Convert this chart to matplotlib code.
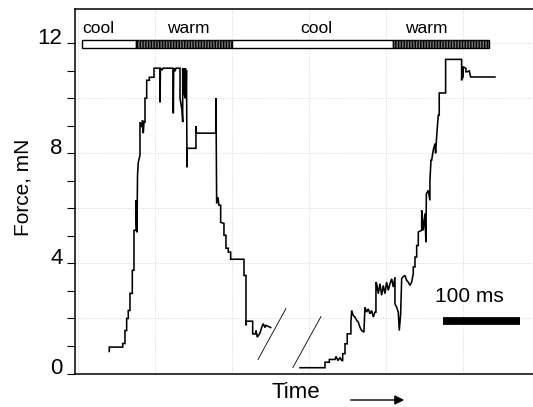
import matplotlib
matplotlib.use("Agg")
import matplotlib.pyplot as plt
import matplotlib.transforms as mtransforms
from matplotlib.patches import Rectangle

plt.rcParams['font.family'] = ['Liberation Sans', 'DejaVu Sans']
plt.rcParams['hatch.linewidth'] = 1.0

# ---- data (time in ms, force in mN) ----
t1 = [40.6, 40.6, 58.1, 58.1, 61.0, 61.0, 63.2, 63.2, 65.3, 65.3, 67.5, 67.5, 70.5, 70.5,
      72.7, 72.7, 75.3, 75.3, 76.6, 77.3, 78.3, 80.5, 80.5, 82.7, 83.8, 84.8, 85.7, 87.0,
      87.0, 89.2, 89.2, 92.6, 92.6, 98.7, 98.7, 106.5, 106.5, 107.1, 109.1, 110.4, 123.4,
      123.8, 124.3, 126.0, 127.3, 132.5, 132.5, 135.1, 136.0, 136.0, 137.7, 138.3, 139.0,
      139.6, 140.3, 140.9, 141.6, 141.9, 153.2, 153.2, 153.9, 179.2, 179.2, 180.1, 181.8,
      183.1, 185.3, 185.3, 189.6, 189.6, 192.2, 192.2, 195.2, 195.2, 198.3, 198.3, 215.6,
      215.6, 218.2, 218.2, 218.6, 226.9, 226.9, 231.2, 231.2, 232.9, 236.4, 238.6, 240.6,
      242.9, 244.2, 250.3]
f1 = [0.80, 0.96, 0.96, 1.09, 1.09, 1.56, 1.56, 2.00, 2.00, 2.29, 2.29, 2.91, 2.91, 3.75,
      3.75, 5.20, 5.20, 6.29, 5.13, 7.20, 7.67, 7.93, 9.13, 8.95, 9.20, 8.73, 9.13, 9.13,
      10.00, 10.00, 10.65, 10.65, 10.76, 10.76, 11.09, 11.09, 9.85, 11.09, 11.02, 11.09, 11.09,
      9.45, 11.09, 10.98, 11.09, 11.09, 10.00, 9.56, 9.13, 11.09, 10.11, 11.09, 10.00,
      11.09, 10.00, 11.02, 7.49, 8.18, 8.18, 8.98, 8.73, 8.73, 10.00, 6.18, 6.40,
      6.11, 6.11, 5.49, 5.45, 5.02, 5.02, 4.55, 4.55, 4.41, 4.41, 4.15, 4.15,
      3.56, 3.56, 1.75, 1.90, 1.90, 1.44, 1.44, 1.56, 1.32, 1.47, 1.68, 1.81,
      1.67, 1.75, 1.67]

t2 = [288.3, 320.8, 320.8, 326.4, 326.4, 333.8, 335.1, 337.7, 340.3, 342.5, 343.8, 343.8,
      346.8, 346.8, 349.7, 349.7, 354.5, 354.5, 355.5, 357.5, 359.7, 362.0, 364.0, 366.2,
      368.4, 371.4, 372.7, 374.9, 377.0, 379.2, 381.4, 383.5, 385.7, 387.0, 387.0, 387.9,
      390.0, 392.2, 394.4, 396.5, 398.7, 400.9, 403.0, 405.2, 407.4, 409.5, 411.7, 411.7,
      413.9, 416.0, 417.3, 419.1, 420.4, 421.7, 424.7, 426.9, 429.0, 431.2, 433.4, 435.5,
      435.5, 437.7, 437.7, 439.9, 439.9, 442.0, 442.0, 446.4, 446.4, 448.4, 450.6, 451.9,
      452.5, 454.9, 457.1, 457.1, 458.5, 459.4, 461.4, 463.6, 464.5, 465.8, 467.9, 469.2,
      469.2, 477.5, 477.5, 498.3, 498.3, 499.1, 499.6, 500.4, 503.9, 503.9, 505.6, 508.2,
      510.0, 541.6]
f2 = [0.21, 0.21, 0.41, 0.41, 0.51, 0.51, 0.62, 0.47, 0.58, 0.47, 0.47, 0.72,
      0.72, 1.08, 1.08, 1.44, 1.44, 1.87, 2.29, 2.11, 2.05, 1.93, 1.87, 1.68,
      1.56, 1.50, 2.41, 2.23, 2.35, 2.17, 2.29, 2.05, 2.23, 2.23, 3.32, 3.26,
      2.90, 3.26, 2.84, 3.20, 2.90, 3.32, 3.02, 3.26, 3.44, 3.14, 3.50, 2.53,
      2.41, 2.23, 1.56, 2.17, 3.44, 3.50, 3.56, 3.38, 3.32, 3.20, 3.32, 3.63,
      3.87, 3.87, 4.23, 4.23, 4.65, 4.65, 5.14, 5.20, 5.93, 5.20, 5.81, 4.77,
      6.53, 6.65, 6.29, 7.00, 7.75, 7.75, 8.11, 8.35, 8.00, 8.59, 9.38, 9.38,
      10.19, 10.19, 11.41, 11.41, 10.65, 11.14, 10.73, 11.14, 11.08, 10.96, 10.96, 10.99,
      10.77, 10.77]

# break marks (axis-break slashes)
break_t = [[233.8, 270.1], [279.2, 315.6]]
break_f = [[0.51, 2.36], [0.22, 2.07]]

# temperature protocol bar
phase_labels = ['cool', 'warm', 'cool', 'warm']
phase_start = [5.2, 75.3, 200.0, 409.0]
phase_end = [75.3, 200.0, 409.0, 533.8]
phase_warm = [False, True, False, True]
phase_label_x = [27, 143, 309, 453]

y_ticks = list(range(0, 13))
y_ticklabels = ['0', '', '', '', '4', '', '', '', '8', '', '', '', '12']
x_grid = [0, 100, 200, 300, 400, 500]
y_grid = [2, 4, 6, 8, 10, 12]

scale_bar_t = [474, 574]
scale_bar_f = 1.91
scale_label_t = 509
scale_label_f = 2.78

# ---- figure ----
fig = plt.figure(figsize=(5.33, 4.07), dpi=100)
ax = fig.add_axes([75 / 533, 1 - 373.5 / 407, 1 - 75 / 533, (373.5 - 9) / 407])
ax.set_xlim(-3.9, 591)
ax.set_ylim(0, 13.24)

for g in x_grid:
    ax.axvline(g, color='#c8c8c8', lw=0.6, ls=(0, (1, 2)), zorder=0)
for g in y_grid:
    ax.axhline(g, color='#c8c8c8', lw=0.6, ls=(0, (1, 2)), zorder=0)

ax.plot(t1, f1, color='black', lw=1.15, solid_joinstyle='miter')
ax.plot(t2, f2, color='black', lw=1.15, solid_joinstyle='miter')
for bt, bf in zip(break_t, break_f):
    ax.plot(bt, bf, color='black', lw=0.6)

bar_lo, bar_hi = 11.82, 12.11
for s, e, w in zip(phase_start, phase_end, phase_warm):
    if w:
        ax.add_patch(Rectangle((s, bar_lo), e - s, bar_hi - bar_lo, facecolor='#777777',
                               edgecolor='black', hatch='|' * 6, lw=1.0, zorder=3))
    else:
        ax.add_patch(Rectangle((s, bar_lo), e - s, bar_hi - bar_lo, facecolor='white',
                               edgecolor='black', lw=1.0, zorder=3))
for lab, x in zip(phase_labels, phase_label_x):
    ax.text(x, 12.36, lab, ha='center', va='baseline', fontsize=12.5)

ax.plot(scale_bar_t, [scale_bar_f, scale_bar_f], color='black', lw=5.6, solid_capstyle='butt')
ax.text(scale_label_t, scale_label_f, '100 ms', ha='center', va='center', fontsize=15)

ax.spines['right'].set_visible(False)
for sp in ['left', 'bottom', 'top']:
    ax.spines[sp].set_linewidth(1.1)
ax.set_xticks([])
ax.set_yticks(y_ticks)
ax.set_yticklabels(y_ticklabels)
ax.tick_params(axis='y', direction='out', length=5.5, width=0.8, pad=3.5, labelsize=16)
offset = mtransforms.ScaledTranslation(0, 0.075, fig.dpi_scale_trans)
for lab in ax.get_yticklabels():
    lab.set_transform(lab.get_transform() + offset)

fig.text(23 / 533, 1 - 187 / 407, 'Force, mN', rotation=90, ha='center', va='center', fontsize=15)
fig.text(296 / 533, 1 - 392 / 407, 'Time', ha='center', va='center', fontsize=16)
fig.add_artist(matplotlib.patches.FancyArrowPatch((348 / 533, 1 - 400 / 407), (407 / 533, 1 - 400 / 407),
               transform=fig.transFigure, arrowstyle='-|>', mutation_scale=14, color='black', lw=1.0))

fig.savefig('out.png', dpi=100)
